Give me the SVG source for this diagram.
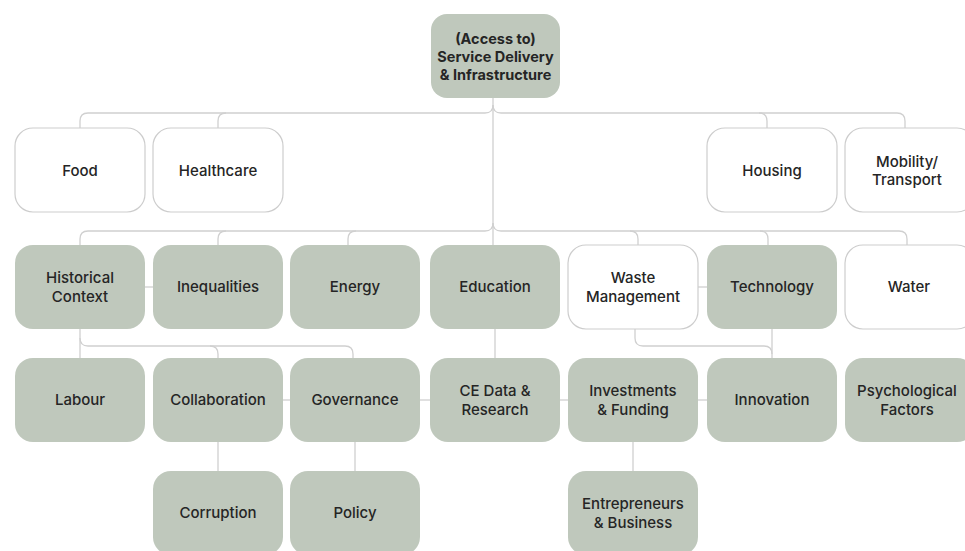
<svg xmlns="http://www.w3.org/2000/svg" width="965" height="551" viewBox="0 0 965 551">
<style>
.g rect{fill:#BFC8BC;}
.w rect{fill:#ffffff;stroke:#cdcdcd;stroke-width:1.2;}
text{font-family:Inter,"Noto Sans",sans-serif;font-size:15px;font-weight:500;fill:#252525;text-anchor:middle;dominant-baseline:central;}
.root text{font-weight:700;font-size:14.5px;}
.c path{fill:none;stroke:#d0d0d0;stroke-width:1.3;}
</style>
<rect x="0" y="0" width="965" height="551" fill="#ffffff"/>
<g class="c" id="connectors">
<path d="M493,98 V245"/>
<path d="M80,128 V121 Q80,113 88,113 H485 Q493,113 493,105"/>
<path d="M218,128 V121 Q218,113 226,113"/>
<path d="M905,128 V121 Q905,113 897,113 H501 Q493,113 493,105"/>
<path d="M759,113 Q767,113 767,121 V128"/>
<path d="M80,245 V239 Q80,231 88,231 H485 Q493,231 493,223"/>
<path d="M218,245 V239 Q218,231 226,231"/>
<path d="M348,245 V239 Q348,231 356,231"/>
<path d="M907,245 V239 Q907,231 899,231 H501 Q493,231 493,223"/>
<path d="M630,231 Q638,231 638,239 V245"/>
<path d="M760,231 Q768,231 768,239 V245"/>
<path d="M145,287 H153"/>
<path d="M698,287 H707"/>
<path d="M283,400 H290"/>
<path d="M420,400 H430"/>
<path d="M560,400 H568"/>
<path d="M698,400 H707"/>
<path d="M80,329 V358"/>
<path d="M80,338 Q80,346 88,346 H345 Q353,346 353,354 V358"/>
<path d="M210,346 Q218,346 218,354 V358"/>
<path d="M495,329 V358"/>
<path d="M772,329 V358"/>
<path d="M635,329 V338 Q635,346 643,346 H764 Q772,346 772,354"/>
<path d="M218,442 V471"/>
<path d="M355,442 V471"/>
<path d="M633,442 V471"/>
</g>
<g id="root" class="g root"><rect x="431" y="14" width="129" height="84" rx="16"/><text x="495.5" y="38">(Access to)</text><text x="495.5" y="56">Service Delivery</text><text x="495.5" y="74">&amp; Infrastructure</text></g>
<g id="food" class="w"><rect x="15" y="128" width="130" height="84" rx="18"/><text x="80" y="170">Food</text></g>
<g id="healthcare" class="w"><rect x="153" y="128" width="130" height="84" rx="18"/><text x="218" y="170">Healthcare</text></g>
<g id="housing" class="w"><rect x="707" y="128" width="130" height="84" rx="18"/><text x="772" y="170">Housing</text></g>
<g id="mobility" class="w"><rect x="845" y="128" width="130" height="84" rx="18"/><text x="907" y="161">Mobility/</text><text x="907" y="179">Transport</text></g>
<g id="historical" class="g"><rect x="15" y="245" width="130" height="84" rx="18"/><text x="80" y="277">Historical</text><text x="80" y="296">Context</text></g>
<g id="inequalities" class="g"><rect x="153" y="245" width="130" height="84" rx="18"/><text x="218" y="286">Inequalities</text></g>
<g id="energy" class="g"><rect x="290" y="245" width="130" height="84" rx="18"/><text x="355" y="286">Energy</text></g>
<g id="education" class="g"><rect x="430" y="245" width="130" height="84" rx="18"/><text x="495" y="286">Education</text></g>
<g id="waste" class="w"><rect x="568" y="245" width="130" height="84" rx="18"/><text x="633" y="277">Waste</text><text x="633" y="296">Management</text></g>
<g id="technology" class="g"><rect x="707" y="245" width="130" height="84" rx="18"/><text x="772" y="286">Technology</text></g>
<g id="water" class="w"><rect x="845" y="245" width="130" height="84" rx="18"/><text x="909" y="286">Water</text></g>
<g id="labour" class="g"><rect x="15" y="358" width="130" height="84" rx="18"/><text x="80" y="399">Labour</text></g>
<g id="collaboration" class="g"><rect x="153" y="358" width="130" height="84" rx="18"/><text x="218" y="399">Collaboration</text></g>
<g id="governance" class="g"><rect x="290" y="358" width="130" height="84" rx="18"/><text x="355" y="399">Governance</text></g>
<g id="cedata" class="g"><rect x="430" y="358" width="130" height="84" rx="18"/><text x="495" y="390">CE Data &amp;</text><text x="495" y="409">Research</text></g>
<g id="investments" class="g"><rect x="568" y="358" width="130" height="84" rx="18"/><text x="633" y="390">Investments</text><text x="633" y="409">&amp; Funding</text></g>
<g id="innovation" class="g"><rect x="707" y="358" width="130" height="84" rx="18"/><text x="772" y="399">Innovation</text></g>
<g id="psychological" class="g"><rect x="845" y="358" width="130" height="84" rx="18"/><text x="907" y="390">Psychological</text><text x="907" y="409">Factors</text></g>
<g id="corruption" class="g"><rect x="153" y="471" width="130" height="84" rx="18"/><text x="218" y="512">Corruption</text></g>
<g id="policy" class="g"><rect x="290" y="471" width="130" height="84" rx="18"/><text x="355" y="512">Policy</text></g>
<g id="entrepreneurs" class="g"><rect x="568" y="471" width="130" height="84" rx="18"/><text x="633" y="503">Entrepreneurs</text><text x="633" y="522">&amp; Business</text></g>
</svg>
